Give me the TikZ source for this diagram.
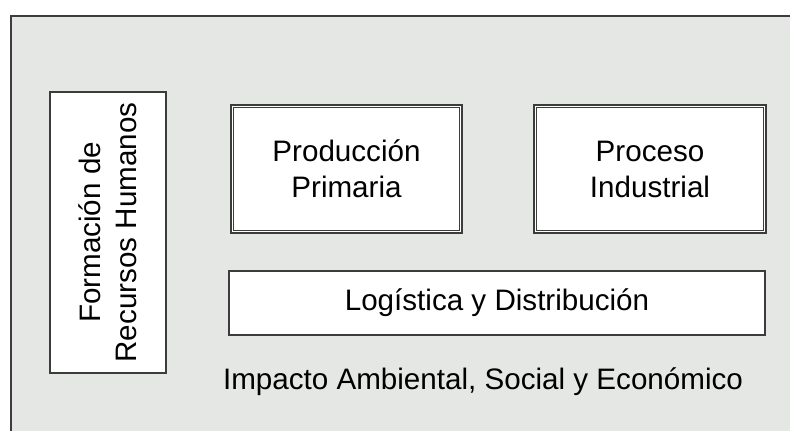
\documentclass[tikz,border=0pt]{standalone}
\usepackage{fontspec}
\setmainfont{Liberation Sans}
\usetikzlibrary{positioning}
\definecolor{framegray}{RGB}{229,231,229}
\definecolor{linegray}{RGB}{60,60,60}
\tikzset{
	every node/.style={align=center,font=\fontsize{14.8}{18}\selectfont},
	plainbox/.style={draw=linegray,line width=0.8pt,fill=white,inner sep=0pt},
	dblbox/.style={draw=linegray,line width=1.2pt,fill=white,inner sep=0pt,
		minimum width=115.5pt,minimum height=64pt},
	innerline/.style={draw=linegray,line width=0.5pt},
}

\begin{document}
\begin{tikzpicture}[x=0.5pt,y=-0.5pt]
			
			\clip (0,0) rectangle (790,431);
			\fill [white] (0,0) rectangle (790,431);
			
			%outer frame.....................
			\draw [linegray,line width=0.8pt,fill=framegray] (11,16) rectangle (810,450);
			
			%left box......................
			\node [plainbox,rotate=90,minimum width=140.5pt,minimum height=58pt] (rrhh) at (108,232.5)
				{Formación de\\Recursos Humanos};
			
			%top boxes...................
			\node [dblbox] (prim) at (346.5,169) {Producción\\Primaria};
			\node [dblbox,minimum width=116pt] (ind) at (650,169) {Proceso\\Industrial};
			\draw [innerline] ([xshift=2pt,yshift=-2pt]prim.north west) rectangle ([xshift=-2pt,yshift=2pt]prim.south east);
			\draw [innerline] ([xshift=2pt,yshift=-2pt]ind.north west) rectangle ([xshift=-2pt,yshift=2pt]ind.south east);
			
			%bottom box...................
			\node [plainbox,minimum width=268pt,minimum height=32pt] (log) at (497,303) {Logística y Distribución};
			
			%caption...................
			\node (imp) at (483,382) {Impacto Ambiental, Social y Económico};
			
		\end{tikzpicture}
\end{document}
